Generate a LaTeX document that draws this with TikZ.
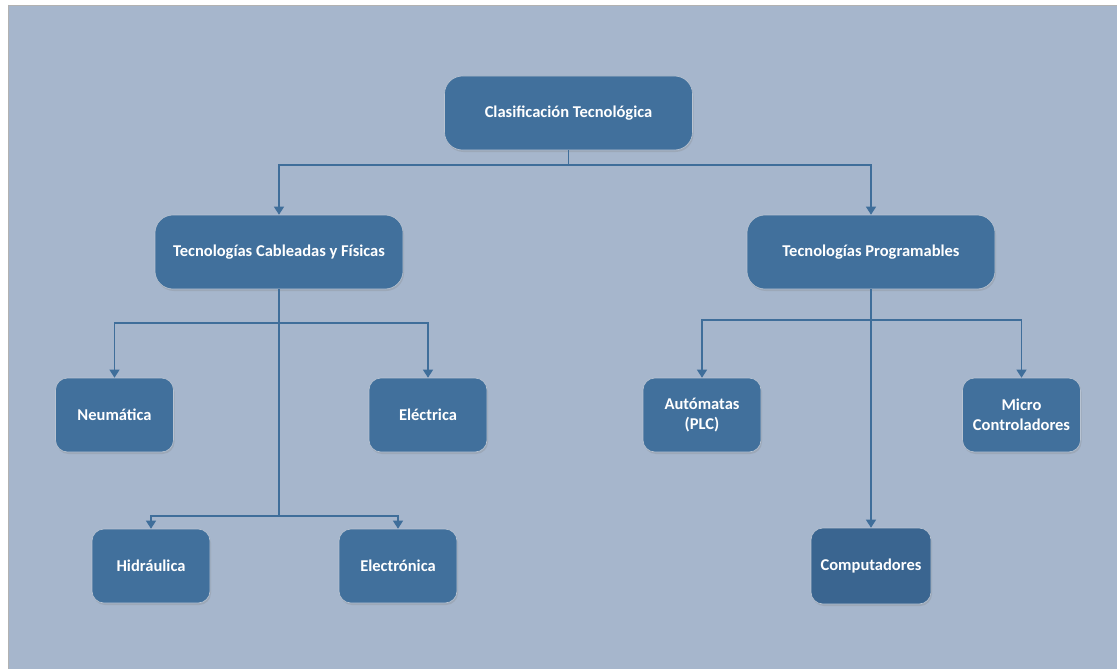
\documentclass[tikz,border=0pt]{standalone}
\usepackage{fontspec}
\setmainfont{Carlito}
\usetikzlibrary{arrows.meta,shadows}
\definecolor{bgc}{HTML}{A6B6CC}
\definecolor{boxc}{HTML}{41709C}
\definecolor{boxd}{HTML}{3A6590}
\definecolor{linec}{HTML}{3F6E9A}
\definecolor{edgec}{HTML}{B9C4D2}
\tikzset{
  x=1pt,y=-1pt,
  bigbox/.style={draw=edgec,line width=0.6pt,fill=boxc,rounded corners=18pt,minimum width=248pt,minimum height=74pt,
    text=white,font=\bfseries\fontsize{16.5}{20}\selectfont,align=center,inner sep=0pt,
    drop shadow={shadow xshift=1pt,shadow yshift=-2pt,opacity=0.25}},
  smallbox/.style={bigbox,rounded corners=12pt,minimum width=118pt},
  conn/.style={draw=linec,line width=1.2pt},
  arr/.style={conn,-{Triangle[length=8pt,width=10pt]}}
}
\begin{document}
\begin{tikzpicture}
\useasboundingbox (0,0) rectangle (1117,669);
\fill[white] (0,0) rectangle (1117,669);
\fill[bgc] (8,5) rectangle (1117,669);
\draw[draw=gray!60,line width=0.6pt] (8,5) -- (1117,5);
\draw[draw=gray!60,line width=0.6pt] (8,5) -- (8,669);

\node[bigbox] (root) at (568.5,113) {Clasificación Tecnológica};
\node[bigbox] (cab) at (279,252) {Tecnologías Cableadas y Físicas};
\node[bigbox] (prog) at (871,252) {Tecnologías Programables};

\node[smallbox] (neu) at (114.5,415) {Neumática};
\node[smallbox] (ele) at (428,415) {Eléctrica};
\node[smallbox] (hid) at (151,566) {Hidráulica};
\node[smallbox] (elo) at (398,566) {Electrónica};

\node[smallbox] (aut) at (702,415) {Autómatas\\(PLC)};
\node[smallbox] (mic) at (1021.5,415) {Micro\\Controladores};
\node[smallbox,fill=boxd,minimum width=120pt,minimum height=76pt] (com) at (871,566) {Computadores};

\coordinate (j0) at (568.5,165);
\draw[conn] (root.south) -- (j0);
\draw[arr] (j0) -| (cab.north);
\draw[arr] (j0) -| (prog.north);

\coordinate (j1) at (279,323);
\coordinate (j2) at (279,516);
\draw[conn] (cab.south) -- (j2);
\draw[arr] (j1) -| (neu.north);
\draw[arr] (j1) -| (ele.north);
\draw[arr] (j2) -| (hid.north);
\draw[arr] (j2) -| (elo.north);

\coordinate (j3) at (871,320);
\draw[arr] (prog.south) -- (com.north);
\draw[arr] (j3) -| (aut.north);
\draw[arr] (j3) -| (mic.north);
\end{tikzpicture}
\end{document}
